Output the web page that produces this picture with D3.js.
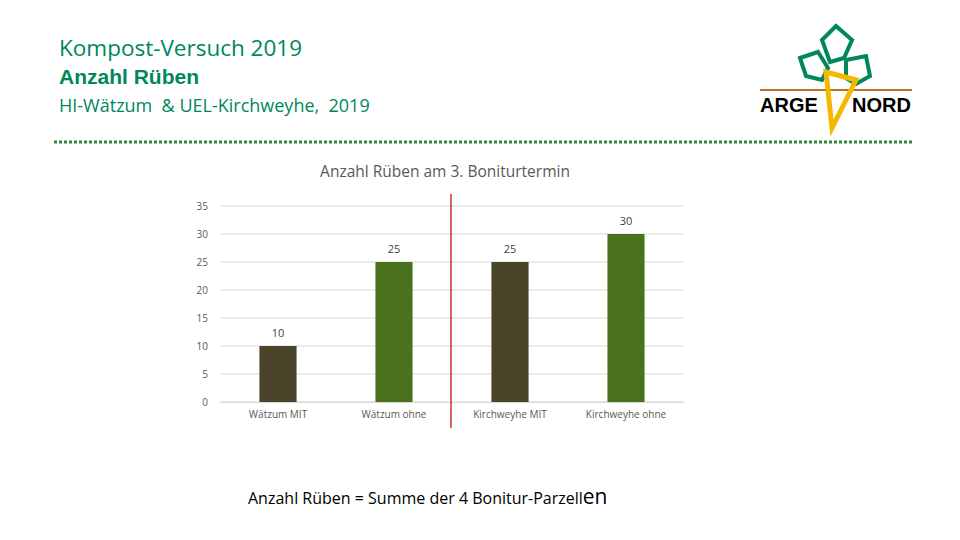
<!DOCTYPE html>
<html>
<head>
<meta charset="utf-8">
<script src="https://cdn.jsdelivr.net/npm/d3@7"></script>
<style>
  body { margin: 0; background: #fff; }
  text { font-family: "Open Sans", sans-serif; white-space: pre; }
</style>
</head>
<body>
<script>
const categories = ["Wätzum MIT", "Wätzum ohne", "Kirchweyhe MIT", "Kirchweyhe ohne"];
const values = [10, 25, 25, 30];
const barColors = ["#4a452a", "#4a721e", "#4a452a", "#4a721e"];
const yTicks = [0, 5, 10, 15, 20, 25, 30, 35];

const svg = d3.select("body").append("svg").attr("width", 960).attr("height", 540);

// header
svg.append("text").attr("x", 59).attr("y", 56).attr("font-size", 22.5).attr("fill", "#00875a").text("Kompost-Versuch 2019");
svg.append("text").attr("x", 59).attr("y", 84).attr("font-size", 21).attr("font-weight", "bold")
  .style("font-family", "Arial, 'Liberation Sans', sans-serif").attr("fill", "#00875a").text("Anzahl Rüben");
svg.append("text").attr("x", 59).attr("y", 112).attr("font-size", 18).attr("fill", "#00875a").text("HI-Wätzum  & UEL-Kirchweyhe,  2019");
svg.append("line").attr("x1", 54).attr("x2", 914).attr("y1", 142).attr("y2", 142)
  .attr("stroke", "#2e8b3a").attr("stroke-width", 3).attr("stroke-dasharray", "3,2");

// logo
const logo = svg.append("g");
logo.append("line").attr("x1", 760).attr("x2", 912).attr("y1", 90).attr("y2", 90).attr("stroke", "#b8732a").attr("stroke-width", 2);
["M800,58 L818,52 L828,68 L822,80 L806,76 Z", "M822,40 L836,26 L852,40 L844,58 L830,62 Z", "M846,60 L866,56 L870,76 L856,84 L846,78 Z"]
  .forEach(p => logo.append("path").attr("d", p).attr("fill", "none").attr("stroke", "#00875a").attr("stroke-width", 4));
logo.append("path").attr("d", "M826,72 L856,80 L832,128 Z").attr("fill", "none").attr("stroke", "#f5b800").attr("stroke-width", 5);
logo.append("text").attr("x", 760).attr("y", 112).attr("font-size", 20).attr("font-weight", "bold")
  .style("font-family", "Arial, 'Liberation Sans', sans-serif").text("ARGE");
logo.append("text").attr("x", 852).attr("y", 112).attr("font-size", 20).attr("font-weight", "bold")
  .style("font-family", "Arial, 'Liberation Sans', sans-serif").text("NORD");

// chart
const x = d3.scaleBand().domain(categories).range([220, 684]).paddingInner(0.68).paddingOuter(0.34);
const y = d3.scaleLinear().domain([0, 35]).range([402, 206]);

svg.append("text").attr("x", 445).attr("y", 177).attr("text-anchor", "middle").attr("font-size", 15.5).attr("fill", "#595959")
  .text("Anzahl Rüben am 3. Boniturtermin");

svg.append("g").selectAll("line").data(yTicks).join("line")
  .attr("x1", 220).attr("x2", 684).attr("y1", d => y(d)).attr("y2", d => y(d))
  .attr("stroke", "#d9d9d9").attr("stroke-width", 1);

const yAxis = svg.append("g").attr("transform", "translate(211,0)")
  .call(d3.axisLeft(y).tickValues(yTicks).tickSize(0));
yAxis.select(".domain").remove();
yAxis.selectAll("text").attr("font-size", 10).attr("fill", "#595959").style("font-family", "'Open Sans', sans-serif");

const xAxis = svg.append("g").attr("transform", "translate(0,402)")
  .call(d3.axisBottom(x).tickSize(0).tickPadding(9));
xAxis.select(".domain").attr("stroke", "#d9d9d9");
xAxis.selectAll("text").attr("font-size", 10).attr("fill", "#595959").style("font-family", "'Open Sans', sans-serif");

svg.append("g").selectAll("rect").data(values).join("rect")
  .attr("x", (d, i) => x(categories[i])).attr("width", x.bandwidth())
  .attr("y", d => y(d)).attr("height", d => y(0) - y(d))
  .attr("fill", (d, i) => barColors[i]);

svg.append("g").selectAll("text").data(values).join("text")
  .attr("x", (d, i) => x(categories[i]) + x.bandwidth() / 2).attr("y", d => y(d) - 9)
  .attr("text-anchor", "middle").attr("font-size", 11).attr("fill", "#404040").text(d => d);

svg.append("line").attr("x1", 451).attr("x2", 451).attr("y1", 194).attr("y2", 428).attr("stroke", "#c00000").attr("stroke-width", 1.2);

const foot = svg.append("text").attr("x", 248).attr("y", 504).attr("font-size", 16).attr("fill", "#000");
foot.append("tspan").text("Anzahl Rüben = Summe der 4 Bonitur-Parzell");
foot.append("tspan").attr("font-size", 21).text("en");
</script>
</body>
</html>
